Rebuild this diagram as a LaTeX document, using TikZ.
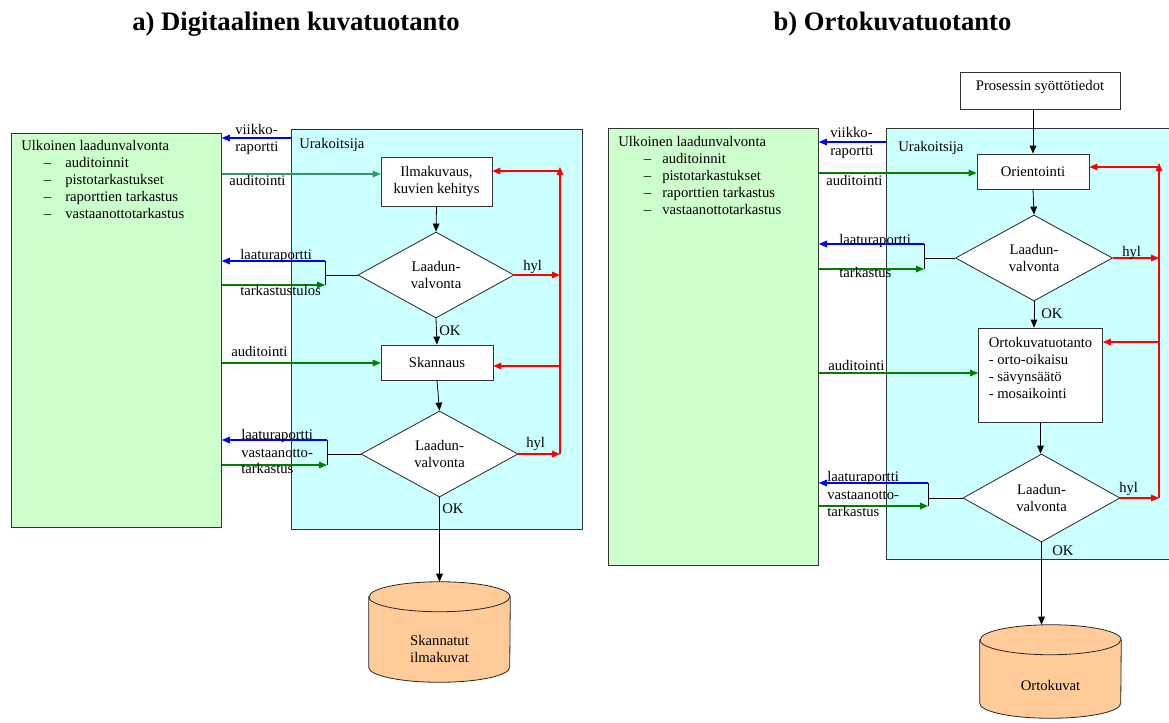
\documentclass[tikz,border=0pt]{standalone}
\usepackage{fontspec}
\setmainfont{Liberation Serif}
\usetikzlibrary{shapes.geometric,arrows.meta,calc}
\definecolor{lgreen}{HTML}{CCFFCC}
\definecolor{lcyan}{HTML}{CCFFFF}
\definecolor{lorange}{HTML}{FFCC99}
\definecolor{agreen}{HTML}{008000}
\definecolor{tgreen}{HTML}{339966}
\definecolor{ablue}{HTML}{0000FF}
\definecolor{ared}{HTML}{FF0000}
\begin{document}
\begin{tikzpicture}[x=0.75pt,y=-0.75pt,
  every node/.style={font=\fontsize{11}{12.75}\selectfont},
  region/.style={draw=black!80, line width=0.6pt, inner sep=0, anchor=north west},
  procbox/.style={draw=black!80, fill=white, line width=0.6pt, align=center, inner sep=0},
  decision/.style={diamond, draw=black!85, fill=white, line width=0.6pt, align=center, inner sep=0},
  cylbody/.style={draw=black!85, fill=lorange, line width=0.6pt},
  flow/.style={-{Triangle[length=6pt,width=5pt]}, line width=0.6pt, black},
  plain/.style={line width=0.6pt, black},
  rep/.style={-{Triangle[length=6pt,width=5pt]}, line width=0.8pt, ablue},
  aud/.style={-{Triangle[length=6pt,width=5pt]}, line width=0.8pt, agreen},
  rej/.style={-{Triangle[length=6pt,width=5pt]}, line width=0.8pt, ared},
  lbl/.style={inner sep=0, anchor=base west},
  ttl/.style={font=\fontsize{20}{24}\selectfont\bfseries, inner sep=0, anchor=base},
]
\useasboundingbox (0,0) rectangle (1169,722);

% ---------------- titles
\node[ttl] (titA) at (296,30) {a) Digitaalinen kuvatuotanto};
\node[ttl] (titB) at (892.5,30) {b) Ortokuvatuotanto};

% ================= a) =================
\node[region, fill=lgreen, minimum width={210*0.75pt}, minimum height={394*0.75pt}] (ulkA) at (11,133) {};
\node[region, fill=lcyan, minimum width={290.5*0.75pt}, minimum height={400*0.75pt}] (uraA) at (291,129) {};

\node[lbl] (ulkAt) at (21,150) {Ulkoinen laadunvalvonta};
\node[lbl] (ulkA1d) at (43.5,167) {–};
\node[lbl] (ulkA1) at (65,167) {auditoinnit};
\node[lbl] (ulkA2d) at (43.5,184) {–};
\node[lbl] (ulkA2) at (65,184) {pistotarkastukset};
\node[lbl] (ulkA3d) at (43.5,201) {–};
\node[lbl] (ulkA3) at (65,201) {raporttien tarkastus};
\node[lbl] (ulkA4d) at (43.5,218) {–};
\node[lbl] (ulkA4) at (65,218) {vastaanottotarkastus};
\node[lbl] (uraAt) at (299,148) {Urakoitsija};

\node[procbox, minimum width={111*0.75pt}, minimum height={49*0.75pt}] (ilmA) at (436.5,181.5) {Ilmakuvaus,\\kuvien kehitys};
\node[decision, minimum width={156*0.75pt}, minimum height={86*0.75pt}] (dA1) at (436,275) {Laadun-\\valvonta};
\node[procbox, minimum width={112*0.75pt}, minimum height={35*0.75pt}] (skanA) at (437,362.5) {Skannaus};
\node[decision, minimum width={157*0.75pt}, minimum height={86*0.75pt}] (dA2) at (439.5,454) {Laadun-\\valvonta};
\node[inner sep=0, minimum width={141*0.75pt}, minimum height={100*0.75pt}] (cylA) at (439.5,632) {};
\draw[cylbody] ([yshift=-11.25pt]cylA.north west) -- ([yshift=11.25pt]cylA.south west)
  arc[start angle=180,end angle=360,x radius=52.875pt,y radius=11.25pt]
  -- ([yshift=-11.25pt]cylA.north east)
  arc[start angle=0,end angle=180,x radius=52.875pt,y radius=11.25pt] -- cycle;
\draw[draw=black!85, line width=0.6pt] ([yshift=-11.25pt]cylA.north west)
  arc[start angle=180,end angle=360,x radius=52.875pt,y radius=11.25pt];
\node[align=center, inner sep=0] (cylAt) at (439.5,648.5) {Skannatut\\ilmakuvat};

% connectors a)
\draw[rep] (uraA.west |- 0,138) -- (ulkA.east |- 0,138);
\node[lbl] (viikA1) at (235,134) {viikko-};
\node[lbl] (viikA2) at (235,151) {raportti};

\draw[aud, tgreen] (ulkA.east |- 0,174) -- (ilmA.west |- 0,174);
\node[lbl] (audA1) at (229,185) {auditointi};

\draw[flow] (ilmA.south) -- (dA1.north);

\coordinate (jA1) at (325,275);
\coordinate (jA1t) at (325,261);
\coordinate (jA1b) at (325,285);
\draw[plain] (dA1.west) -- (jA1);
\draw[plain] (jA1t) -- (jA1b);
\draw[rep] (jA1t) -- (ulkA.east |- jA1t);
\draw[aud] (ulkA.east |- jA1b) -- (jA1b);
\node[lbl] (laaA1) at (240,259) {laaturaportti};
\node[lbl] (tarA1) at (240,295) {tarkastustulos};

\coordinate (rA1) at (560,275);
\coordinate (rA2) at (560,454);
\coordinate (rAtop) at (560,167);
\coordinate (rAilm) at (560,171);
\coordinate (rAska) at (560,366);
\draw[rej] (dA1.east) -- (rA1);
\node[lbl] (hylA1) at (523,270) {hyl};
\draw[rej] (rA2) -- (rAtop);
\draw[rej] (rAilm) -- (ilmA.east |- rAilm);
\draw[rej] (rAska) -- (skanA.east |- rAska);

\draw[flow] (dA1.south) -- (skanA.north);
\node[lbl] (okA1) at (439,335) {OK};

\draw[aud] (ulkA.east |- 0,363) -- (skanA.west |- 0,363);
\node[lbl] (audA2) at (231,356) {auditointi};

\draw[flow] (skanA.south) -- (dA2.north);

\coordinate (jA2) at (327,454);
\coordinate (jA2t) at (327,440);
\coordinate (jA2b) at (327,465);
\draw[plain] (dA2.west) -- (jA2);
\draw[plain] (jA2t) -- (jA2b);
\draw[rep] (jA2t) -- (ulkA.east |- jA2t);
\draw[aud] (ulkA.east |- jA2b) -- (jA2b);
\node[lbl] (laaA2) at (241,439) {laaturaportti};
\node[lbl] (vasA2) at (241,457) {vastaanotto-};
\node[lbl] (tarA2) at (241,473) {tarkastus};

\draw[rej] (dA2.east) -- (rA2);
\node[lbl] (hylA2) at (526,447) {hyl};

\draw[flow] (dA2.south) -- (cylA.north);
\node[lbl] (okA2) at (442,513) {OK};

% ================= b) =================
\node[region, fill=lgreen, minimum width={210*0.75pt}, minimum height={437*0.75pt}] (ulkB) at (608,128) {};
\node[region, fill=lcyan, minimum width={300*0.75pt}, minimum height={431*0.75pt}] (uraB) at (885.5,128) {};

\node[lbl] (ulkBt) at (618,146) {Ulkoinen laadunvalvonta};
\node[lbl] (ulkB1d) at (643.5,163) {–};
\node[lbl] (ulkB1) at (662,163) {auditoinnit};
\node[lbl] (ulkB2d) at (643.5,180) {–};
\node[lbl] (ulkB2) at (662,180) {pistotarkastukset};
\node[lbl] (ulkB3d) at (643.5,197) {–};
\node[lbl] (ulkB3) at (662,197) {raporttien tarkastus};
\node[lbl] (ulkB4d) at (643.5,214) {–};
\node[lbl] (ulkB4) at (662,214) {vastaanottotarkastus};
\node[lbl] (uraBt) at (898,151) {Urakoitsija};

\node[procbox, text depth=7pt, minimum width={160*0.75pt}, minimum height={37*0.75pt}] (prosB) at (1040,90.5) {Prosessin syöttötiedot};
\node[procbox, minimum width={112*0.75pt}, minimum height={35*0.75pt}] (oriB) at (1033,171.5) {Orientointi};
\node[decision, minimum width={157*0.75pt}, minimum height={86*0.75pt}] (dB1) at (1034,258) {Laadun-\\valvonta};
\node[procbox, align=left, text depth=11pt, minimum width={124*0.75pt}, minimum height={94*0.75pt}] (ortoB) at (1040.5,375)
  {Ortokuvatuotanto\\- orto-oikaisu\\- sävynsäätö\\- mosaikointi};
\node[decision, minimum width={157*0.75pt}, minimum height={88*0.75pt}] (dB2) at (1041.5,498) {Laadun-\\valvonta};
\node[inner sep=0, minimum width={141*0.75pt}, minimum height={93*0.75pt}] (cylB) at (1050.5,671.5) {};
\draw[cylbody] ([yshift=-11.25pt]cylB.north west) -- ([yshift=11.25pt]cylB.south west)
  arc[start angle=180,end angle=360,x radius=52.875pt,y radius=11.25pt]
  -- ([yshift=-11.25pt]cylB.north east)
  arc[start angle=0,end angle=180,x radius=52.875pt,y radius=11.25pt] -- cycle;
\draw[draw=black!85, line width=0.6pt] ([yshift=-11.25pt]cylB.north west)
  arc[start angle=180,end angle=360,x radius=52.875pt,y radius=11.25pt];
\node[inner sep=0] (cylBt) at (1050.5,685) {Ortokuvat};

% connectors b)
\draw[flow] (prosB.south -| oriB.north) -- (oriB.north);

\draw[rep] (uraB.west |- 0,142) -- (ulkB.east |- 0,142);
\node[lbl] (viikB1) at (830,137) {viikko-};
\node[lbl] (viikB2) at (830,155) {raportti};

\draw[aud] (ulkB.east |- 0,173) -- (oriB.west |- 0,173);
\node[lbl] (audB1) at (826,185) {auditointi};

\draw[flow] (oriB.south) -- (dB1.north);

\coordinate (jB1) at (924,258);
\coordinate (jB1t) at (924,244);
\coordinate (jB1b) at (924,269);
\draw[plain] (dB1.west) -- (jB1);
\draw[plain] (jB1t) -- (jB1b);
\draw[rep] (jB1t) -- (ulkB.east |- jB1t);
\draw[aud] (ulkB.east |- jB1b) -- (jB1b);
\node[lbl] (laaB1) at (839,244) {laaturaportti};
\node[lbl] (tarB1) at (839,277) {tarkastus};

\coordinate (rB1) at (1159,258);
\coordinate (rB2) at (1159,498);
\coordinate (rBtop) at (1159,163);
\coordinate (rBori) at (1159,167);
\coordinate (rBort) at (1159,342);
\draw[rej] (dB1.east) -- (rB1);
\node[lbl] (hylB1) at (1122,256) {hyl};
\draw[rej] (rB2) -- (rBtop);
\draw[rej] (rBori) -- (oriB.east |- rBori);
\draw[rej] (rBort) -- (ortoB.east |- rBort);

\draw[flow] (dB1.south) -- (dB1.south |- ortoB.north);
\node[lbl] (okB1) at (1041,318) {OK};

\draw[aud] (ulkB.east |- 0,373) -- (ortoB.west |- 0,373);
\node[lbl] (audB2) at (828,370) {auditointi};

\draw[flow] (ortoB.south) -- (ortoB.south |- dB2.north);

\coordinate (jB2) at (928,498);
\coordinate (jB2t) at (928,483);
\coordinate (jB2b) at (928,506);
\draw[plain] (dB2.west) -- (jB2);
\draw[plain] (jB2t) -- (jB2b);
\draw[rep] (jB2t) -- (ulkB.east |- jB2t);
\draw[aud] (ulkB.east |- jB2b) -- (jB2b);
\node[lbl] (laaB2) at (827,481) {laaturaportti};
\node[lbl] (vasB2) at (827,499) {vastaanotto-};
\node[lbl] (tarB2) at (827,516) {tarkastus};

\draw[rej] (dB2.east) -- (rB2);
\node[lbl] (hylB2) at (1119,492) {hyl};

\draw[flow] (dB2.south) -- (dB2.south |- cylB.north);
\node[lbl] (okB2) at (1052,555) {OK};
\end{tikzpicture}
\end{document}
